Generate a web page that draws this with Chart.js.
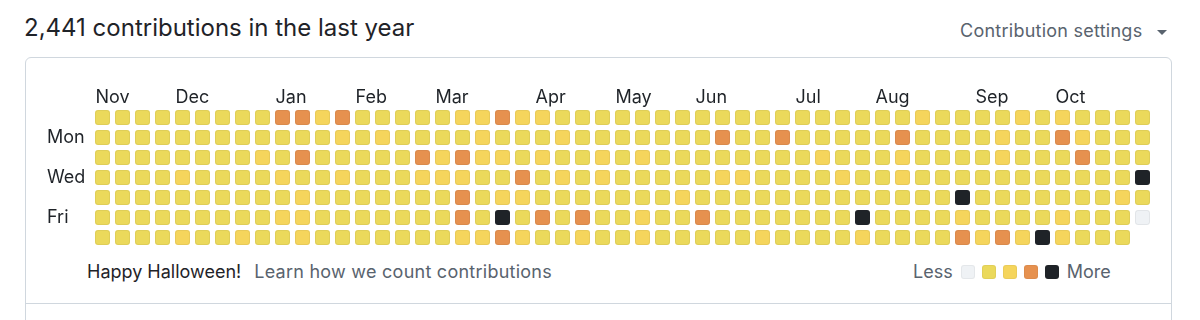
<!DOCTYPE html>
<html>
<head>
<meta charset="utf-8">
<script src="https://cdn.jsdelivr.net/npm/chart.js@4.4.0/dist/chart.umd.min.js"></script>
<style>
  html, body { margin: 0; padding: 0; background: #fff; }
  body { width: 1200px; height: 320px; position: relative; overflow: hidden;
         font-family: Inter, "Noto Sans", "Liberation Sans", sans-serif; color: #1f2328; }
  .abs { position: absolute; white-space: nowrap; }
  #title { left: 24px; top: 13px; font-size: 24px; line-height: 30px; }
  #settings { left: 960px; top: 21px; font-size: 18px; line-height: 20px; color: #59636e; letter-spacing: 0.25px; }
  #caret { left: 1157px; top: 30px; width: 0; height: 0;
           border-left: 5px solid transparent; border-right: 5px solid transparent; border-top: 5px solid #59636e; }
  #card { left: 25px; top: 57px; width: 1145px; height: 280px; border: 1px solid #d0d7de; border-radius: 6px; }
  #divider { left: 26px; top: 303px; width: 1145px; height: 1px; background: #d0d7de; }
  #footer { left: 87px; top: 262px; font-size: 18px; line-height: 20px; }
  #footer .muted { color: #59636e; margin-left: 13px; letter-spacing: 0.25px; }
  #legend { left: 913px; top: 262px; font-size: 18px; line-height: 20px; color: #59636e; display: flex; align-items: center; }
  #legend .box { width: 14px; height: 14px; border-radius: 3px; margin-right: 7px; box-sizing: border-box;
                 border: 1px solid rgba(31,35,40,0.05); }
  #chart { position: absolute; left: 0; top: 0; }
</style>
</head>
<body>
<div class="abs" id="card"></div>
<div class="abs" id="divider"></div>
<div class="abs" id="title">2,441 contributions in the last year</div>
<div class="abs" id="settings">Contribution settings</div>
<div class="abs" id="caret"></div>
<div class="abs" id="footer">Happy Halloween!<span class="muted">Learn how we count contributions</span></div>
<div class="abs" id="legend"></div>
<canvas id="chart" width="1200" height="320"></canvas>
<script>
// Halloween palette, level 0..4
const levelColors = ['#eff2f5', '#ebd95b', '#f5d55c', '#e6914f', '#1f2328'];

// month labels and the week column they start on
const monthLabels = ['Nov','Dec','Jan','Feb','Mar','Apr','May','Jun','Jul','Aug','Sep','Oct'];
const monthWeeks  = [0, 4, 9, 13, 17, 22, 26, 30, 35, 39, 44, 48];

// weekday labels shown on rows 1, 3, 5
const dayLabels = ['', 'Mon', '', 'Wed', '', 'Fri', ''];

// contribution level per week (53 columns), one array per weekday row
const sun = [1,1,1,1,1,1,1,1,1,3,3,2,3,1,1,1,1,1,2,2,3,2,2,1,1,1,1,1,1,1,1,1,1,1,1,1,1,1,1,1,1,2,1,1,1,1,2,1,2,1,1,1,1];
const mon = [1,1,1,1,1,1,1,1,1,1,1,1,2,1,2,1,1,1,1,2,1,1,1,2,1,1,1,1,1,1,1,3,1,1,3,1,1,1,1,1,3,1,1,1,1,2,1,1,3,2,1,1,1];
const tue = [1,1,1,1,1,1,1,1,2,1,3,1,1,1,1,1,3,2,3,2,2,1,2,1,1,2,1,2,1,1,1,1,1,1,1,1,2,1,1,1,2,1,1,1,1,2,1,1,1,3,1,1,1];
const wed = [1,1,1,1,2,1,1,1,1,2,1,1,2,1,1,1,2,2,2,1,1,3,1,2,1,2,1,1,1,1,1,2,2,1,1,1,1,2,1,1,2,1,1,1,1,1,1,1,1,1,1,1,4];
const thu = [1,1,1,1,1,1,1,1,1,1,2,1,1,1,1,1,1,1,3,1,2,2,1,1,1,1,1,1,1,2,1,1,1,1,1,1,1,1,1,1,1,1,1,4,1,1,1,1,1,1,1,2,1];
const fri = [1,1,1,1,1,1,1,1,1,2,2,1,1,1,1,1,1,1,3,1,4,1,3,1,3,1,1,2,1,1,3,1,1,1,1,1,1,1,4,1,1,1,1,2,1,1,1,1,2,1,1,1,0];
const sat = [1,1,1,1,2,1,1,2,1,1,2,1,1,1,1,1,1,1,2,2,3,2,1,1,2,1,1,2,1,1,1,1,1,2,1,1,1,1,2,1,1,1,1,3,2,3,2,4,2,1,1,1,null];

const weekRows = [sun, mon, tue, wed, thu, fri, sat];

// rounded square sprite for each level
function makeCell(color) {
  const c = document.createElement('canvas');
  c.width = 16; c.height = 16;
  const g = c.getContext('2d');
  g.beginPath();
  g.roundRect(0, 0, 15, 15, 3);
  g.fillStyle = color;
  g.fill();
  g.beginPath();
  g.roundRect(0.5, 0.5, 14, 14, 2.5);
  g.strokeStyle = 'rgba(31,35,40,0.06)';
  g.lineWidth = 1;
  g.stroke();
  return c;
}
const cellImages = levelColors.map(makeCell);

const points = [];
weekRows.forEach((row, day) => {
  row.forEach((v, week) => {
    if (v !== null) points.push({ x: week, y: day, v: v });
  });
});

// legend boxes
const legend = document.getElementById('legend');
legend.innerHTML = '<span style="margin-right:8px">Less</span>' +
  levelColors.map(c => `<span class="box" style="background:${c}"></span>`).join('') +
  '<span style="margin-left:1px">More</span>';

new Chart(document.getElementById('chart').getContext('2d'), {
  type: 'scatter',
  data: {
    datasets: [{
      data: points,
      pointStyle: ctx => cellImages[ctx.raw ? ctx.raw.v : 0],
      pointRadius: 8,
      pointHoverRadius: 8
    }]
  },
  options: {
    responsive: false,
    animation: false,
    layout: { padding: { left: 47, right: 47, top: 78, bottom: 72 } },
    plugins: { legend: { display: false }, tooltip: { enabled: false } },
    scales: {
      x: {
        type: 'linear',
        position: 'top',
        min: -0.5,
        max: 52.5,
        grid: { display: false, drawTicks: false },
        border: { display: false },
        afterBuildTicks: s => { s.ticks = monthWeeks.map(w => ({ value: w - 0.375 })); },
        afterFit: s => { s.height = 30; },
        ticks: {
          autoSkip: false,
          maxRotation: 0,
          align: 'start',
          padding: 0,
          color: '#1f2328',
          font: { family: 'Inter', size: 18 },
          callback: (v, i) => monthLabels[i]
        }
      },
      y: {
        type: 'linear',
        reverse: true,
        min: -0.5,
        max: 6.5,
        grid: { display: false, drawTicks: false },
        border: { display: false },
        afterBuildTicks: s => { s.ticks = [1, 3, 5].map(d => ({ value: d })); },
        afterFit: s => { s.width = 46; },
        ticks: {
          crossAlign: 'far',
          color: '#1f2328',
          font: { family: 'Inter', size: 18 },
          callback: v => dayLabels[v]
        }
      }
    }
  }
});
</script>
</body>
</html>
